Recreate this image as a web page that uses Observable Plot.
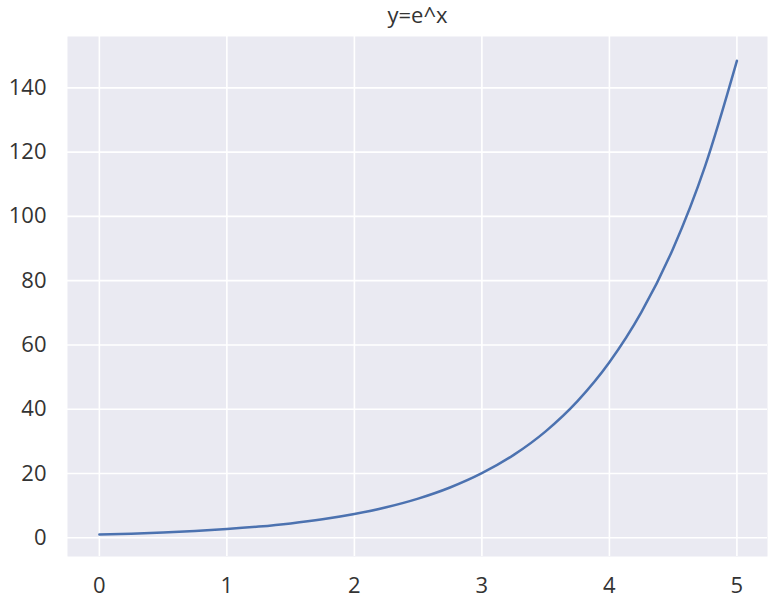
<!DOCTYPE html>
<html>
<head>
<meta charset="utf-8">
<script src="https://cdn.jsdelivr.net/npm/d3@7"></script>
<script src="https://cdn.jsdelivr.net/npm/@observablehq/plot@0.6"></script>
<style>
  body { margin: 0; background: #fff; font-family: "Open Sans", sans-serif; }
  #title { width: 777px; height: 30px; position: relative; }
  #title span { position: absolute; left: 0; width: 835px; text-align: center; top: 1px; font-size: 22px; line-height: 26px; color: #333; }
</style>
</head>
<body>
<div id="title"><span>y=e^x</span></div>
<div id="chart"></div>
<script>
const xs = [0, 0.25, 0.5, 0.75, 1, 1.25, 1.5, 1.75, 2, 2.25, 2.5, 2.75, 3, 3.25, 3.5, 3.75, 4, 4.25, 4.5, 4.75, 5];
const ys = [1, 1.28, 1.65, 2.12, 2.72, 3.49, 4.48, 5.75, 7.39, 9.49, 12.18, 15.64, 20.09, 25.79, 33.12, 42.52, 54.6, 70.11, 90.02, 115.58, 148.41];
const xTicks = [0, 1, 2, 3, 4, 5];
const yTicks = [0, 20, 40, 60, 80, 100, 120, 140];

const data = xs.map((x, i) => ({x, y: ys[i]}));

const chart = Plot.plot({
  width: 777,
  height: 576,
  marginLeft: 67,
  marginRight: 10,
  marginTop: 6,
  marginBottom: 50,
  style: { fontFamily: "'Open Sans'", fontSize: "22px", color: "#333", background: "#fff" },
  x: { domain: [-0.25, 5.24] },
  y: { domain: [-5.82, 155.97] },
  marks: [
    Plot.frame({ fill: "#eaeaf2", stroke: null }),
    Plot.gridX(xTicks, { stroke: "#fff", strokeOpacity: 1, strokeWidth: 1.6 }),
    Plot.gridY(yTicks, { stroke: "#fff", strokeOpacity: 1, strokeWidth: 1.6 }),
    Plot.axisX(xTicks, { tickSize: 0, tickPadding: 21, label: null, fontSize: 22, fill: "#333", tickFormat: d3.format("d") }),
    Plot.axisY(yTicks, { tickSize: 0, tickPadding: 21, label: null, fontSize: 22, fill: "#333", tickFormat: d3.format("d") }),
    Plot.line(data, { x: "x", y: "y", stroke: "#4c72b0", strokeWidth: 2.5, curve: "monotone-x" })
  ]
});
document.getElementById("chart").appendChild(chart);
</script>
</body>
</html>
